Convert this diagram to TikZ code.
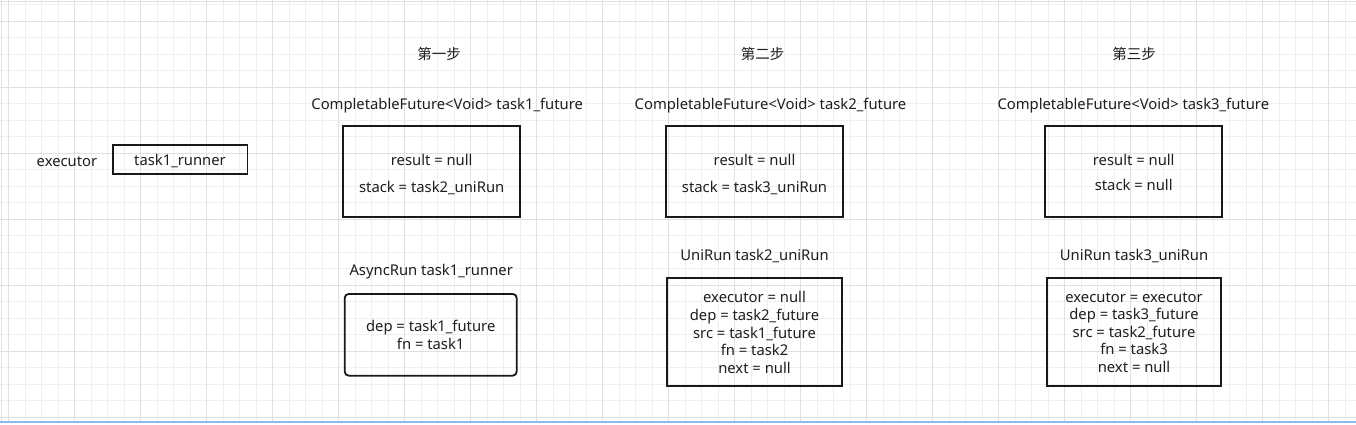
\documentclass[tikz,border=0pt]{standalone}
\usepackage{fontspec}
\setmainfont{Noto Sans}
\newfontfamily\cjk{Noto Sans CJK SC}
\definecolor{gridminor}{HTML}{EFEFEF}
\definecolor{gridmajor}{HTML}{E0E0E0}
\definecolor{txt}{HTML}{1E1E1E}
\definecolor{bluebar}{HTML}{8DBCEB}
\begin{document}
\begin{tikzpicture}[x=1pt,y=-1pt,
  lbl/.style={inner sep=0pt,text=txt,align=center,font=\fontsize{14.8}{17.6}\selectfont},
  stepl/.style={inner sep=0pt,text=txt,font=\cjk\fontsize{14.5}{17}\selectfont},
  box/.style={draw=black!90,line width=1.8pt,inner sep=0pt},
]
\useasboundingbox (0,0) rectangle (1356,424);
\fill[white] (0,0) rectangle (1356,424);
% grid
\foreach \i in {0,...,81} {
  \pgfmathsetmacro{\xx}{8.5+16.5*\i}
  \draw[gridminor,line width=1pt] (\xx,0) -- (\xx,421);
}
\foreach \i in {0,...,25} {
  \pgfmathsetmacro{\yy}{4.8+16.5*\i}
  \draw[gridminor,line width=1pt] (0,\yy) -- (1356,\yy);
}
\foreach \i in {0,...,20} {
  \pgfmathsetmacro{\xx}{8.5+66*\i}
  \draw[gridmajor,line width=1pt] (\xx,0) -- (\xx,421);
}
\foreach \i in {0,...,6} {
  \pgfmathsetmacro{\yy}{21.3+66*\i}
  \draw[gridmajor,line width=1pt] (0,\yy) -- (1356,\yy);
}
\draw[gridmajor,line width=1pt] (1.5,0) -- (1.5,421);
\draw[gridmajor,line width=1pt] (0,1.5) -- (1356,1.5);
\fill[bluebar] (0,421) rectangle (1356,422.8);

% step labels
\node[stepl] (s1) at (439,54) {第一步};
\node[stepl] (s2) at (762.7,54) {第二步};
\node[stepl] (s3) at (1134,54) {第三步};

% executor + runner
\node[lbl] (exec) at (67,161.5) {executor};
\node[box,line width=1.6pt,minimum width=134.6pt,minimum height=29pt] (runner) at (180,159.5) {};
\node[lbl] (runnert) at ([yshift=-2pt]runner.center) {task1\_runner};

% futures
\node[lbl] (f1t) at (447.2,105.5) {CompletableFuture<Void> task1\_future};
\node[box,minimum width=176.7pt,minimum height=90.7pt] (f1) at (431.7,171.3) {};
\node[lbl] (f1c) at ([yshift=-3.2pt]f1.center) {result = null\\[9pt] stack = task2\_uniRun};

\node[lbl] (f2t) at (770.5,105.5) {CompletableFuture<Void> task2\_future};
\node[box,minimum width=177.6pt,minimum height=90.7pt] (f2) at (754.5,171.3) {};
\node[lbl] (f2c) at ([yshift=-3.4pt]f2.center) {result = null\\[9pt] stack = task3\_uniRun};

\node[lbl] (f3t) at (1133.3,105.5) {CompletableFuture<Void> task3\_future};
\node[box,minimum width=177.3pt,minimum height=90.7pt] (f3) at (1133.7,171.3) {};
\node[lbl] (f3c) at ([yshift=-1.2pt]f3.center) {result = null\\[7.5pt] stack = null};

% AsyncRun
\node[lbl] (at1) at (431.2,271.5) {AsyncRun task1\_runner};
\node[box,rounded corners=4pt,minimum width=172pt,minimum height=81.7pt] (a1) at (430.7,334.8) {};
\node[lbl] (a1c) at ([yshift=0pt]a1.center) {dep = task1\_future\\ fn = task1};

% UniRun 2
\node[lbl] (u2t) at (754.5,256.5) {UniRun task2\_uniRun};
\node[box,minimum width=175.6pt,minimum height=108pt] (u2) at (754.5,331.7) {};
\node[lbl] (u2c) at ([yshift=-0.8pt]u2.center)
  {executor = null\\ dep = task2\_future\\ src = task1\_future\\ fn = task2\\ next = null};

% UniRun 3
\node[lbl] (u3t) at (1134,256.5) {UniRun task3\_uniRun};
\node[box,minimum width=174pt,minimum height=108pt] (u3) at (1134,332) {};
\node[lbl] (u3c) at ([yshift=-0.5pt]u3.center)
  {executor = executor\\ dep = task3\_future\\ src = task2\_future\\ fn = task3\\ next = null};
\end{tikzpicture}
\end{document}
